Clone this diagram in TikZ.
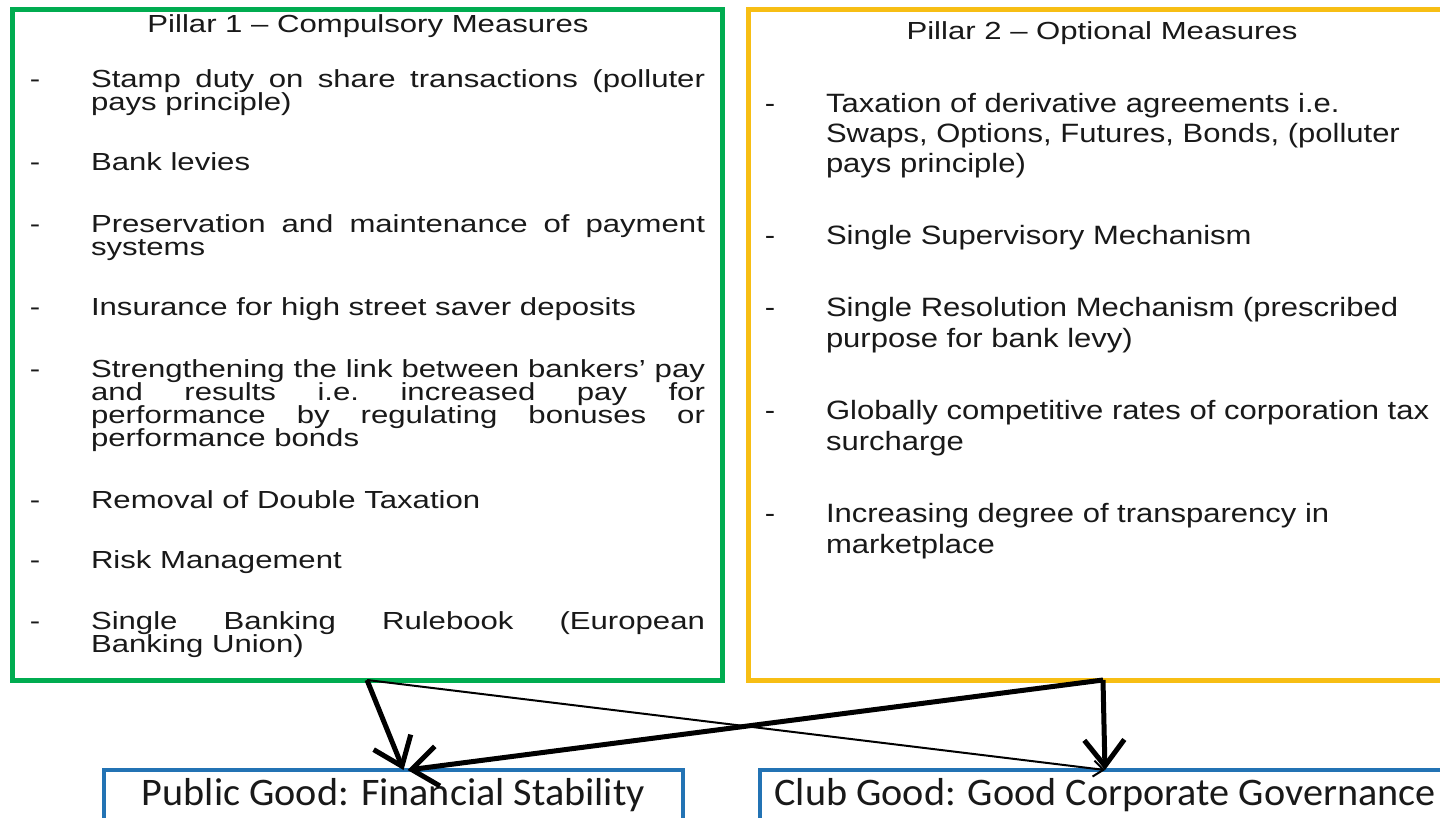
\documentclass[tikz,border=0pt]{standalone}
\usepackage{fontspec}
\usetikzlibrary{arrows.meta,calc}
\newfontfamily\fL[FakeStretch=1.26]{Liberation Sans}
\newfontfamily\fR[FakeStretch=1.17]{Liberation Sans}
\newfontfamily\fC[FakeStretch=1.03]{Carlito}
\definecolor{pgreen}{RGB}{0,172,80}
\definecolor{pyellow}{RGB}{247,190,20}
\definecolor{pblue}{RGB}{35,115,180}
\definecolor{txt}{RGB}{25,25,25}
\begin{document}
\begin{tikzpicture}[x=0.5pt,y=-0.5pt,
  every node/.style={inner sep=0pt,outer sep=0pt,text=txt},
  lline/.style={anchor=base west,font=\fL\fontsize{12.35}{12.35}\selectfont},
  rline/.style={anchor=base west,font=\fR\fontsize{13.25}{13.25}\selectfont},
  ldash/.style={lline,anchor=base},
  rdash/.style={rline,anchor=base},
  pillar/.style={draw,line width=2.5pt,minimum height=335pt},
  goodbox/.style={draw=pblue,line width=2pt,minimum height=25.5pt,font=\fC\fontsize{19.5}{19.5}\selectfont},
  thickarrow/.style={line width=2.5pt,-{Straight Barb[length=13pt,width=20pt]}},
  thinarrow/.style={line width=1pt,-{Straight Barb[length=5pt,width=8pt]}}
]
\useasboundingbox[fill=white] (0,0) rectangle (1440,818);

% pillar boxes
\node[pillar,draw=pgreen,minimum width=355pt] (p1) at (367,345) {};
\node[pillar,draw=pyellow,minimum width=351pt] (p2) at (1099,345) {};

% outcome boxes
\node[goodbox,minimum width=289.5pt] (pg) at (393.5,795.5) {Public Good: Financial Stability};
\node[goodbox,minimum width=345pt] (cg) at (1105,795.5) {Club Good: Good Corporate Governance};

% titles
\node[lline,anchor=base] (t1) at (368,33) {Pillar 1 – Compulsory Measures};
\node[lline,anchor=base] (t2) at (1102,40) {Pillar 2 – Optional Measures};

% left items
\node[ldash] (d1) at (35,88) {-};
\node[lline] (l1a) at (91,88) {\makebox[307pt][s]{Stamp duty on share transactions (polluter}};
\node[lline] (l1b) at (91,111) {pays principle)};
\node[ldash] (d2) at (35,171) {-};
\node[lline] (l2) at (91,171) {Bank levies};
\node[ldash] (d3) at (35,233) {-};
\node[lline] (l3a) at (91,233) {\makebox[307pt][s]{Preservation and maintenance of payment}};
\node[lline] (l3b) at (91,256) {systems};
\node[ldash] (d4) at (35,315) {-};
\node[lline] (l4) at (91,315) {Insurance for high street saver deposits};
\node[ldash] (d5) at (35,377) {-};
\node[lline] (l5a) at (91,377) {\makebox[307pt][s]{Strengthening the link between bankers’ pay}};
\node[lline] (l5b) at (91,400) {\makebox[307pt][s]{and results i.e.\ increased pay for}};
\node[lline] (l5c) at (91,423) {\makebox[307pt][s]{performance by regulating bonuses or}};
\node[lline] (l5d) at (91,446) {performance bonds};
\node[ldash] (d6) at (35,508) {-};
\node[lline] (l6) at (91,508) {Removal of Double Taxation};
\node[ldash] (d7) at (35,568) {-};
\node[lline] (l7) at (91,568) {Risk Management};
\node[ldash] (d8) at (35,629) {-};
\node[lline] (l8a) at (91,629) {\makebox[307pt][s]{Single Banking Rulebook (European}};
\node[lline] (l8b) at (91,652) {Banking Union)};

% right items
\node[rdash] (e1) at (770,113) {-};
\node[rline] (r1a) at (826,113) {Taxation of derivative agreements i.e.};
\node[rline] (r1b) at (826,143) {Swaps, Options, Futures, Bonds, (polluter};
\node[rline] (r1c) at (826,173) {pays principle)};
\node[rdash] (e2) at (770,245) {-};
\node[rline] (r2) at (826,245) {Single Supervisory Mechanism};
\node[rdash] (e3) at (770,316) {-};
\node[rline] (r3a) at (826,316) {Single Resolution Mechanism (prescribed};
\node[rline] (r3b) at (826,347) {purpose for bank levy)};
\node[rdash] (e4) at (770,419) {-};
\node[rline] (r4a) at (826,419) {Globally competitive rates of corporation tax};
\node[rline] (r4b) at (826,450) {surcharge};
\node[rdash] (e5) at (770,522) {-};
\node[rline] (r5a) at (826,522) {Increasing degree of transparency in};
\node[rline] (r5b) at (826,553) {marketplace};

% connectors
\draw[thinarrow] (p1.south) -- (cg.north);
\draw[thickarrow] (p1.south) -- ($(pg.north)+(10,0)$);
\draw[thickarrow] ($(p2.south)+(4,0)$) -- ($(pg.north)+(14,0)$);
\draw[thickarrow] ($(p2.south)+(4,0)$) -- (cg.north);
\end{tikzpicture}
\end{document}
